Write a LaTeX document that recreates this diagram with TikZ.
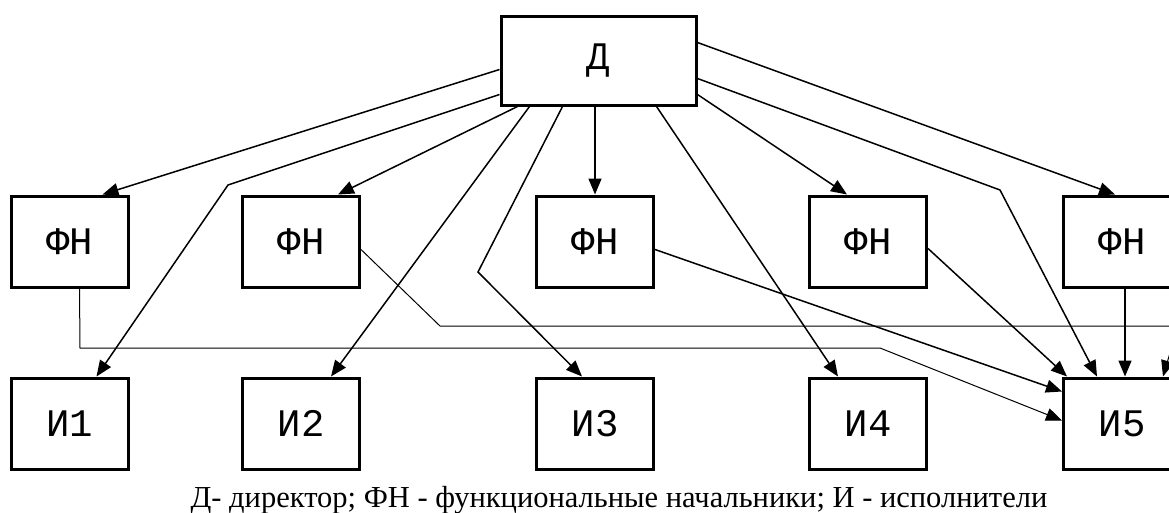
\documentclass[tikz,border=0pt]{standalone}
\usepackage{fontspec}
\setmainfont{Liberation Serif}
\newfontfamily\boxfont{Liberation Mono}
\usetikzlibrary{arrows.meta}
\usetikzlibrary{calc,positioning}

\begin{document}
\begin{tikzpicture}[x=1pt, y=-1pt, >={Triangle[length=16pt,width=13pt]},
 unit/.style={draw, line width=3pt, minimum width=117pt, minimum height=91pt,
   inner sep=0pt, font=\boxfont\fontsize{39}{41}\selectfont},
 link/.style={line width=1.5pt},
 route/.style={line width=1pt}]

    \useasboundingbox (0,0) rectangle (1169,512);

    \node[unit, minimum width=195pt, minimum height=89pt] (dir) at (598.5,60.5) {Д};

    \node[unit] (fn1) at (69.5,241.5) {ФН};
    \node[unit] (fn2) at (301,241.5) {ФН};
    \node[unit] (fn3) at (595,241.5) {ФН};
    \node[unit] (fn4) at (868,241.5) {ФН};
    \node[unit] (fn5) at (1122,241.5) {ФН};

    \node[unit, below=88pt of fn1] (isp1) {И1};
    \node[unit, below=88pt of fn2] (isp2) {И2};
    \node[unit, below=88pt of fn3] (isp3) {И3};
    \node[unit, below=88pt of fn4] (isp4) {И4};
    \node[unit, below=88pt of fn5] (isp5) {И5};

    % director to the heads
    \draw[->, link] ($(dir.north west)+(0,55)$) -- ($(fn1.north west)+(93,0)$);
    \draw[->, link] ($(dir.south west)+(18,0)$) -- ($(fn2.north west)+(97,0)$);
    \draw[->, link] (dir.south -| fn3.north) -- (fn3.north);
    \draw[->, link] ($(dir.north east)+(0,80)$) -- ($(fn4.north west)+(39,0)$);
    \draw[->, link] ($(dir.north east)+(0,28)$) -- ($(fn5.north west)+(53,0)$);

    % director to the workers
    \draw[->, link] ($(dir.north west)+(0,80)$) -- (228,185) -- ($(isp1.north west)+(87,0)$);
    \draw[->, link] ($(dir.south west)+(30,0)$) -- ($(isp2.north west)+(90,0)$);
    \draw[->, link] ($(dir.south west)+(63,0)$) -- (478,272) -- ($(isp3.north west)+(47,0)$);
    \draw[->, link] ($(dir.south west)+(157,0)$) -- ($(isp4.north west)+(30,0)$);
    \draw[->, link] ($(dir.north east)+(0,64)$) -- (1000,190) -- ($(isp5.north west)+(35,0)$);

    % heads to the last worker
    \draw[->, route] ($(fn1.south west)+(70,0)$) -- (80,348) -- (880,348) -- ($(isp5.north west)+(0,44)$);
    \draw[->, route] ($(fn2.north east)+(0,55)$) -- (440,326) -- (1178,326) -- ($(isp5.north west)+(101,0)$);
    \draw[->, link] ($(fn3.north east)+(0,55)$) -- ($(isp5.north west)+(0,15)$);
    \draw[->, link] ($(fn4.north east)+(0,54)$) -- ($(isp5.north west)+(5,0)$);
    \draw[->, link] ($(fn5.south west)+(63,0)$) -- ($(isp5.north west)+(63,0)$);

    \node[anchor=base, font=\fontsize{30.5}{32}\selectfont] (legend) at (619,507)
      {Д- директор; ФН - функциональные начальники; И - исполнители};

\end{tikzpicture}
\end{document}
